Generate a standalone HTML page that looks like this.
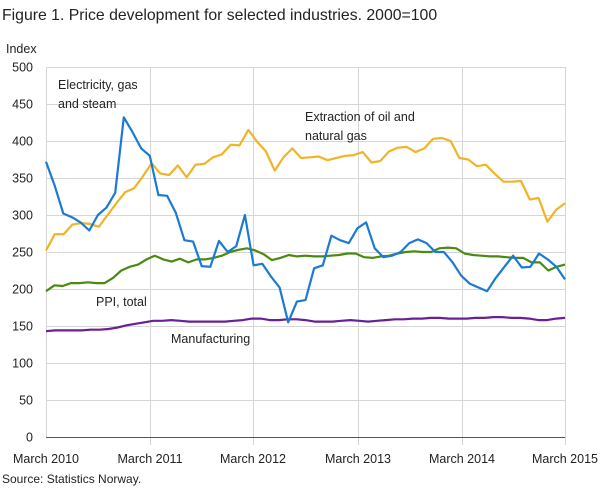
<!DOCTYPE html>
<html><head><meta charset="utf-8"><style>
body{margin:0;background:#fff;width:609px;height:489px;overflow:hidden;font-family:"Liberation Sans",sans-serif;}
svg text{font-family:"Liberation Sans",sans-serif;fill:#222;}
</style></head><body>
<svg id="s" width="609" height="489" xmlns="http://www.w3.org/2000/svg">
<text x="2" y="20" font-size="15.8">Figure 1. Price development for selected industries. 2000=100</text>
<text x="6" y="53" font-size="12.5">Index</text>
<g id="grid" stroke="#d6d6d6" stroke-width="1"></g>
<g id="lab" font-size="12.5"></g>
<line x1="46" y1="437.5" x2="565" y2="437.5" stroke="#555" stroke-width="1"/>
<g id="lines" fill="none" stroke-width="2.2" stroke-linejoin="round"></g>
<text x="58" y="89" font-size="12.5">Electricity,  gas</text>
<text x="58" y="108" font-size="12.5">and steam</text>
<text x="305" y="121" font-size="12.5">Extraction  of oil and</text>
<text x="305" y="140" font-size="12.5">natural  gas</text>
<text x="96" y="306" font-size="12.5">PPI, total</text>
<text x="171" y="343" font-size="12.5">Manufacturing</text>
<text x="2" y="483" font-size="12">Source: Statistics Norway.</text>
</svg>
<script>
var ns="http://www.w3.org/2000/svg";
function Y(v){return 437-v*0.74;}
var g=document.getElementById('grid'),lab=document.getElementById('lab');
for(var v=0;v<=500;v+=50){var y=Y(v);
 if(v>0){var l=document.createElementNS(ns,'line');l.setAttribute('x1',46);l.setAttribute('x2',565);l.setAttribute('y1',y+0.5);l.setAttribute('y2',y+0.5);g.appendChild(l);}
 var t=document.createElementNS(ns,'text');t.setAttribute('x',33);t.setAttribute('y',y+4.5);t.setAttribute('text-anchor','end');t.textContent=v;lab.appendChild(t);}
var xs=[46,150,253,358,462,565],yl=["March 2010","March 2011","March 2012","March 2013","March 2014","March 2015"];
xs.forEach(function(x,i){var l=document.createElementNS(ns,'line');l.setAttribute('x1',x+0.5);l.setAttribute('x2',x+0.5);l.setAttribute('y1',67);l.setAttribute('y2',i==0?437:445);if(i==0)l.setAttribute('stroke','#d6d6d6');g.appendChild(l);
 var t=document.createElementNS(ns,'text');t.setAttribute('x',x);t.setAttribute('y',463);t.setAttribute('text-anchor','middle');t.textContent=yl[i];lab.appendChild(t);});
var series=[
["#6b1f96",[143,144,144,144,144,145,145,146,148,151,153,155,157,157,158,157,156,156,156,156,156,157,158,160,160,158,158,159,159,158,156,156,156,157,158,157,156,157,158,159,159,160,160,161,161,160,160,160,161,161,162,162,161,161,160,158,158,160,161]],
["#4a8a10",[197,205,204,208,208,209,208,208,215,225,230,233,240,245,240,237,241,236,240,240,242,245,250,253,255,252,247,239,242,246,244,245,244,244,245,246,248,248,243,242,244,245,248,250,251,250,250,255,256,255,248,246,245,244,244,243,242,242,236,236,225,230,233]],
["#f0b428",[252,274,274,287,289,288,284,300,316,331,336,352,370,356,354,367,351,368,369,378,382,395,394,415,399,386,360,378,390,377,378,379,374,377,380,381,385,371,373,386,391,392,385,390,403,404,400,377,375,366,368,356,345,345,346,321,323,291,307,316]],
["#1a7ad4",[372,340,302,297,290,279,300,310,330,432,412,390,380,327,326,303,266,264,231,230,265,250,258,300,232,234,217,202,155,183,185,228,232,272,266,262,282,290,255,243,245,250,262,267,262,250,250,236,218,207,202,197,215,230,245,229,230,248,240,230,213]]];
var L=document.getElementById('lines');
series.forEach(function(s){var d=s[1],n=d.length,p=[];for(var i=0;i<n;i++)p.push((46+519*i/(n-1)).toFixed(1)+","+Y(d[i]).toFixed(1));
 var pl=document.createElementNS(ns,'polyline');pl.setAttribute('points',p.join(' '));pl.setAttribute('stroke',s[0]);L.appendChild(pl);});
</script>
</body></html>
